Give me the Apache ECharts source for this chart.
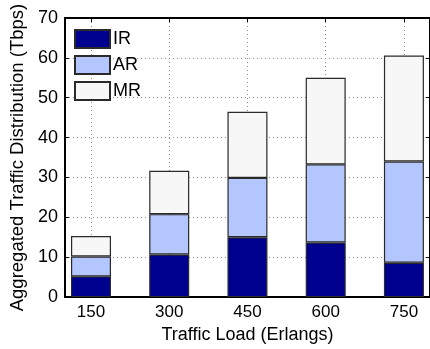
<!DOCTYPE html>
<html>
<head>
<meta charset="utf-8">
<script src="https://cdn.jsdelivr.net/npm/echarts@6/dist/echarts.min.js"></script>
<style>
html,body{margin:0;padding:0;background:#fff;}
#chart{width:430px;height:349px;}
</style>
</head>
<body>
<div id="chart"></div>
<script>
const loads = [150, 300, 450, 600, 750];
const irValues = [5.2, 10.7, 15.0, 13.7, 8.6];
const arValues = [5.0, 10.1, 14.9, 19.6, 25.4];
const mrValues = [5.1, 10.9, 16.6, 21.7, 26.6];
const yTicks = [0, 10, 20, 30, 40, 50, 60, 70];
const seriesNames = ['IR', 'AR', 'MR'];
const seriesColors = ['#00008f', '#b3c6fd', '#f7f7f7'];

const FONT = "'Liberation Sans', Arial, Helvetica, sans-serif";
const chart = echarts.init(document.getElementById('chart'), null, {renderer: 'canvas'});

// value first, load second, so the stack is computed on the value dimension
function rows(vals) { return loads.map((x, i) => [vals[i], x]); }
const allVals = [irValues, arValues, mrValues];

const gridLine = {show: true, lineStyle: {type: [1, 3], color: '#8a8a8a', width: 1}};

const option = {
  animation: false,
  backgroundColor: '#fff',
  textStyle: {fontFamily: FONT},
  grid: {left: 60, top: 18, width: 372, height: 289, containLabel: false},
  legend: {
    orient: 'vertical', left: 74, top: 29, padding: 0,
    itemWidth: 35, itemHeight: 18, itemGap: 6,
    icon: 'rect',
    textStyle: {fontFamily: FONT, fontSize: 18, color: '#000', padding: [0, 0, 0, -2]},
    data: seriesNames
  },
  xAxis: [{
    type: 'value', min: 100, max: 800, position: 'bottom',
    name: 'Traffic Load (Erlangs)', nameLocation: 'middle', nameGap: 22,
    nameTextStyle: {fontFamily: FONT, fontSize: 18, color: '#000'},
    axisLine: {show: true, onZero: false, lineStyle: {color: '#000', width: 2}},
    axisTick: {show: true, inside: true, length: 4, customValues: loads, lineStyle: {color: '#000'}},
    axisLabel: {customValues: loads, fontFamily: FONT, fontSize: 17, color: '#000', margin: 7},
    splitLine: gridLine
  }, {
    type: 'value', min: 100, max: 800, position: 'top',
    axisLine: {show: true, onZero: false, lineStyle: {color: '#000', width: 2}},
    axisTick: {show: true, inside: true, length: 4, customValues: loads, lineStyle: {color: '#000'}},
    axisLabel: {show: false},
    splitLine: {show: false}
  }],
  yAxis: [{
    type: 'value', min: 0, max: 70, interval: 10, position: 'left',
    name: 'Aggregated Traffic Distribution (Tbps)', nameLocation: 'middle', nameGap: 37,
    nameTextStyle: {fontFamily: FONT, fontSize: 18.5, color: '#000'},
    axisLine: {show: true, onZero: false, lineStyle: {color: '#000', width: 2}},
    axisTick: {show: true, inside: true, length: 4, lineStyle: {color: '#000'}},
    axisLabel: {fontFamily: FONT, fontSize: 18, color: '#000', margin: 7,
      formatter: v => yTicks.indexOf(v) >= 0 ? String(v) : ''},
    splitLine: gridLine
  }, {
    type: 'value', min: 0, max: 70, interval: 10, position: 'right',
    axisLine: {show: true, onZero: false, lineStyle: {color: '#000', width: 2}},
    axisTick: {show: true, inside: true, length: 4, lineStyle: {color: '#000'}},
    axisLabel: {show: false},
    splitLine: {show: false}
  }],
  series: seriesNames.map((name, k) => ({
    name: name, type: 'bar', stack: 'total', barWidth: 40,
    xAxisIndex: 0, yAxisIndex: 0,
    encode: {x: 1, y: 0},
    itemStyle: {color: seriesColors[k], borderColor: '#2a2a2a', borderWidth: 1.2},
    data: rows(allVals[k])
  }))
};
chart.setOption(option);
</script>
</body>
</html>
